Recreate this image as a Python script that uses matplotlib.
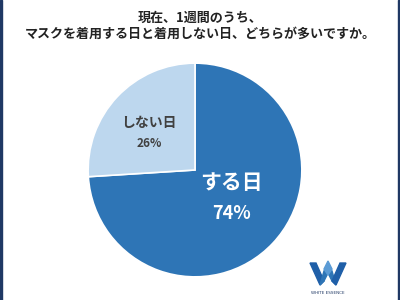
import matplotlib
matplotlib.use("Agg")
import matplotlib.pyplot as plt
from matplotlib.patches import Polygon, Rectangle

plt.rcParams['font.family'] = ['Noto Sans CJK JP', 'DejaVu Sans']

title = "現在、1週間のうち、\nマスクを着用する日と着用しない日、どちらが多いですか。"
labels = ["する日", "しない日"]
values = [74, 26]
colors = ["#2E75B6", "#BDD7EE"]

fig = plt.figure(figsize=(4, 3), dpi=100)
fig.patch.set_facecolor("white")

# navy frame on the left/right
fig.add_artist(Rectangle((0, 0), 2 / 400, 1, transform=fig.transFigure, color="#1F3864"))
fig.add_artist(Rectangle((398 / 400, 0), 2 / 400, 1, transform=fig.transFigure, color="#1F3864"))

fig.text(0.5, 0.915, title, ha="center", va="center", fontsize=9.4,
         fontweight="bold", color="#222222", linespacing=1.15)

ax = fig.add_axes([86 / 400, 21 / 300, 218 / 400, 218 / 300])
ax.pie(values, colors=colors, startangle=90, counterclock=False,
       wedgeprops=dict(edgecolor="white", linewidth=1.2))
ax.set_xlim(-1.02, 1.02)
ax.set_ylim(-1.02, 1.02)
ax.set_aspect("equal")

ax.text(0.34, -0.12, labels[0], ha="center", va="center", fontsize=15,
        fontweight="bold", color="white")
ax.text(0.34, -0.41, f"{values[0]}%", ha="center", va="center", fontsize=13,
        fontweight="bold", color="white")
ax.text(-0.43, 0.44, labels[1], ha="center", va="center", fontsize=10,
        fontweight="bold", color="#404040")
ax.text(-0.43, 0.25, f"{values[1]}%", ha="center", va="center", fontsize=8.5,
        fontweight="bold", color="#404040")

# small logo bottom right
lx, ly = 310 / 400, 1 - 285 / 300
sx, sy = 1 / 400, 1 / 300
shapes = [
    ([(0, 22), (6, 22), (14, 4), (10, 0)], "#1F5FA8"),
    ([(10, 0), (14, 4), (18, 12), (18, 22), (14, 14)], "#2E75B6"),
    ([(18, 22), (18, 12), (22, 4), (26, 0), (22, 14)], "#2E75B6"),
    ([(26, 0), (22, 4), (30, 22), (36, 22)], "#1F5FA8"),
    ([(14, 16), (18, 24), (22, 16), (18, 10)], "#5B9BD5"),
]
for pts, c in shapes:
    fig.add_artist(Polygon([(lx + x * sx, ly + y * sy) for x, y in pts],
                           closed=True, transform=fig.transFigure, color=c))
fig.text(328 / 400, 1 - 293 / 300, "WHITE ESSENCE", ha="center", va="center",
         fontsize=3, color="#1F3864", family=["DejaVu Sans"])

fig.savefig("out.png", dpi=100)
